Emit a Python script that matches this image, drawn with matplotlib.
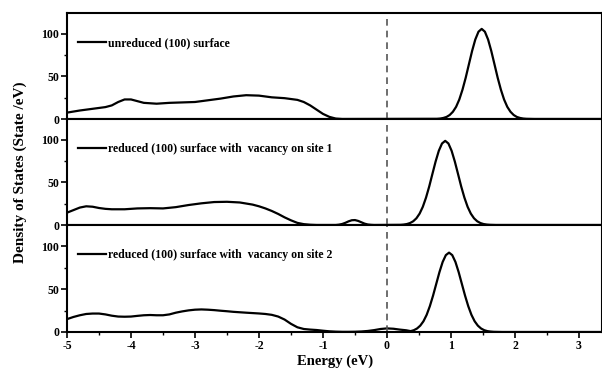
import matplotlib
matplotlib.use("Agg")
import matplotlib.pyplot as plt
from matplotlib.ticker import MultipleLocator

plt.rcParams['font.family'] = ['Liberation Serif', 'DejaVu Serif']
plt.rcParams['font.weight'] = 'bold'
plt.rcParams['axes.unicode_minus'] = False

# ---- data ----
labels = [
    "unreduced (100) surface",
    "reduced (100) surface with  vacancy on site 1",
    "reduced (100) surface with  vacancy on site 2",
]

energy_1 = [-5.0, -4.8, -4.6, -4.4, -4.3, -4.2, -4.1, -4.0, -3.9, -3.8, -3.6, -3.4, -3.2, -3.0,
            -2.8, -2.6, -2.4, -2.2, -2.0, -1.8, -1.6, -1.4, -1.3, -1.2, -1.1, -1.0, -0.9, -0.8,
            -0.7, 0.78, 0.83, 0.88, 0.93, 0.98, 1.03, 1.08, 1.13, 1.18, 1.23, 1.28, 1.33, 1.38,
            1.43, 1.48, 1.53, 1.58, 1.63, 1.68, 1.73, 1.78, 1.83, 1.88, 1.93, 1.98, 2.03, 2.08,
            2.13, 2.18, 2.3, 3.36]
dos_1 = [7.5, 10, 12, 14, 16, 20, 23, 23, 21, 19, 18, 19, 19.5, 20,
         22, 24, 26.5, 28, 27.5, 25.5, 24.5, 22.5, 20, 16, 11, 6, 2.5, 0.5,
         0, 0.2, 0.5, 1.2, 2.4, 4.7, 8.5, 14.3, 22.9, 34.5, 48.5, 64.3, 80, 93.5,
         102.7, 106, 102.7, 93.5, 80, 64.3, 48.5, 34.5, 22.9, 14.3, 8.5, 4.7, 2.4, 1.2,
         0.5, 0.2, 0, 0]

energy_2 = [-5.0, -4.9, -4.8, -4.7, -4.6, -4.5, -4.4, -4.3, -4.1, -3.9, -3.7, -3.5, -3.3, -3.1,
            -2.9, -2.7, -2.5, -2.3, -2.1, -2.0, -1.9, -1.8, -1.7, -1.6, -1.5, -1.4, -1.3, -1.2,
            -1.1, -0.8, -0.75, -0.7, -0.65, -0.6, -0.55, -0.5, -0.45, -0.4, -0.35, -0.3, -0.25,
            -0.2, 0.21, 0.26, 0.31, 0.36, 0.41, 0.46, 0.51, 0.56, 0.61, 0.66, 0.71, 0.76, 0.81,
            0.86, 0.91, 0.96, 1.01, 1.06, 1.11, 1.16, 1.21, 1.26, 1.31, 1.36, 1.41, 1.46, 1.51,
            1.56, 1.61, 1.7, 3.36]
dos_2 = [14.5, 17.5, 20.5, 22, 21.5, 20, 19, 18.5, 18.5, 19.5, 19.8, 19.5, 21, 23.5,
         25.5, 27, 27.3, 26.5, 24, 22, 19.5, 16.5, 13, 9, 5.5, 2.5, 1, 0.3,
         0, 0, 0.4, 1.2, 2.6, 4.3, 5.6, 5.8, 4.8, 3.2, 1.6, 0.6, 0.2,
         0, 0.2, 0.5, 1.1, 2.3, 4.4, 7.9, 13.4, 21.4, 32.2, 45.3, 60.1, 74.7, 87.3,
         95.9, 99, 95.9, 87.3, 74.7, 60.1, 45.3, 32.2, 21.4, 13.4, 7.9, 4.4, 2.3, 1.1,
         0.5, 0.2, 0, 0]

energy_3 = [-5.0, -4.9, -4.8, -4.7, -4.6, -4.5, -4.4, -4.3, -4.2, -4.1, -4.0, -3.9, -3.8, -3.7,
            -3.6, -3.5, -3.4, -3.3, -3.2, -3.1, -3.0, -2.9, -2.8, -2.7, -2.6, -2.5, -2.4, -2.2,
            -2.0, -1.9, -1.8, -1.7, -1.6, -1.5, -1.4, -1.3, -1.2, -1.1, -1.0, -0.9, -0.8, -0.7,
            -0.6, -0.5, -0.4, -0.3, -0.2, -0.1, 0.0, 0.1, 0.2, 0.3, 0.37, 0.42, 0.47, 0.52,
            0.57, 0.62, 0.67, 0.72, 0.77, 0.82, 0.87, 0.92, 0.97, 1.02, 1.07, 1.12, 1.17, 1.22,
            1.27, 1.32, 1.37, 1.42, 1.47, 1.52, 1.57, 1.62, 1.67, 1.8, 3.36]
dos_3 = [15, 17.5, 19.5, 21, 21.5, 21.5, 20.5, 19, 18, 17.8, 18, 18.8, 19.5, 19.8,
         19.5, 19.5, 20.5, 22.5, 24, 25.2, 26, 26.3, 26, 25.5, 24.8, 24.2, 23.5, 22.5,
         21.6, 21, 20, 18, 14.5, 9.5, 5.5, 3.5, 2.8, 2.3, 1.5, 0.8, 0.4, 0.2,
         0.2, 0.3, 0.6, 1.2, 2.2, 3.5, 4.2, 3.8, 2.8, 2.0, 1.0, 2.1, 4.1, 7.4,
         12.5, 20, 30.1, 42.4, 56.1, 69.8, 81.6, 89.6, 92.5, 89.6, 81.6, 69.8, 56.1, 42.4,
         30.1, 20, 12.5, 7.4, 4.1, 2.1, 1.0, 0.5, 0.2, 0, 0]

x_ticks = [-5, -4, -3, -2, -1, 0, 1, 2, 3]
y_ticks = [0, 50, 100]
fermi_level = 0.0

series = [(energy_1, dos_1), (energy_2, dos_2), (energy_3, dos_3)]

# ---- figure ----
fig = plt.figure(figsize=(6.02, 3.68), dpi=100)
left, width = 67 / 602, (602 - 67) / 602
tops_px = [13, 119, 225]
bots_px = [119, 225, 332]

axes = []
for i, ((ex, dy), lab) in enumerate(zip(series, labels)):
    b = (368 - bots_px[i]) / 368
    h = (bots_px[i] - tops_px[i]) / 368
    ax = fig.add_axes([left, b, width, h])
    axes.append(ax)
    ax.plot(ex, dy, color='black', lw=1.6, label=lab)
    ax.axvline(fermi_level, color='#555555', lw=1.2, linestyle=(0, (4, 3)))
    ax.set_xlim(-5, 3.36)
    ax.set_ylim(0, 124.7)
    ax.set_yticks(y_ticks)
    ax.set_xticks(x_ticks)
    ax.xaxis.set_minor_locator(MultipleLocator(0.5))
    ax.yaxis.set_minor_locator(MultipleLocator(25))
    ax.tick_params(axis='both', which='major', direction='out', length=4, width=1.2,
                   labelsize=8.5, pad=1.5)
    ax.tick_params(axis='both', which='minor', direction='out', length=2.5, width=1.0)
    ax.tick_params(top=False, right=False)
    for sp in ax.spines.values():
        sp.set_linewidth(1.5)
    for t in ax.get_yticklabels() + ax.get_xticklabels():
        t.set_fontweight('bold')
    if i < 2:
        ax.set_xticklabels([])
    leg = ax.legend(loc='upper left', bbox_to_anchor=(0.02, 0.775), frameon=False,
                    fontsize=8.5, handlelength=2.4, handletextpad=0.2, borderaxespad=0.0,
                    borderpad=0.0)
    for t in leg.get_texts():
        t.set_fontweight('bold')

fig.text(0.033, 0.533, "Density of States (State /eV)", rotation=90, ha='center',
         va='center', fontsize=11, fontweight='bold')
fig.text(0.557, 0.018, "Energy (eV)", ha='center', va='center', fontsize=10.5,
         fontweight='bold')

fig.savefig("out.png", dpi=100)
